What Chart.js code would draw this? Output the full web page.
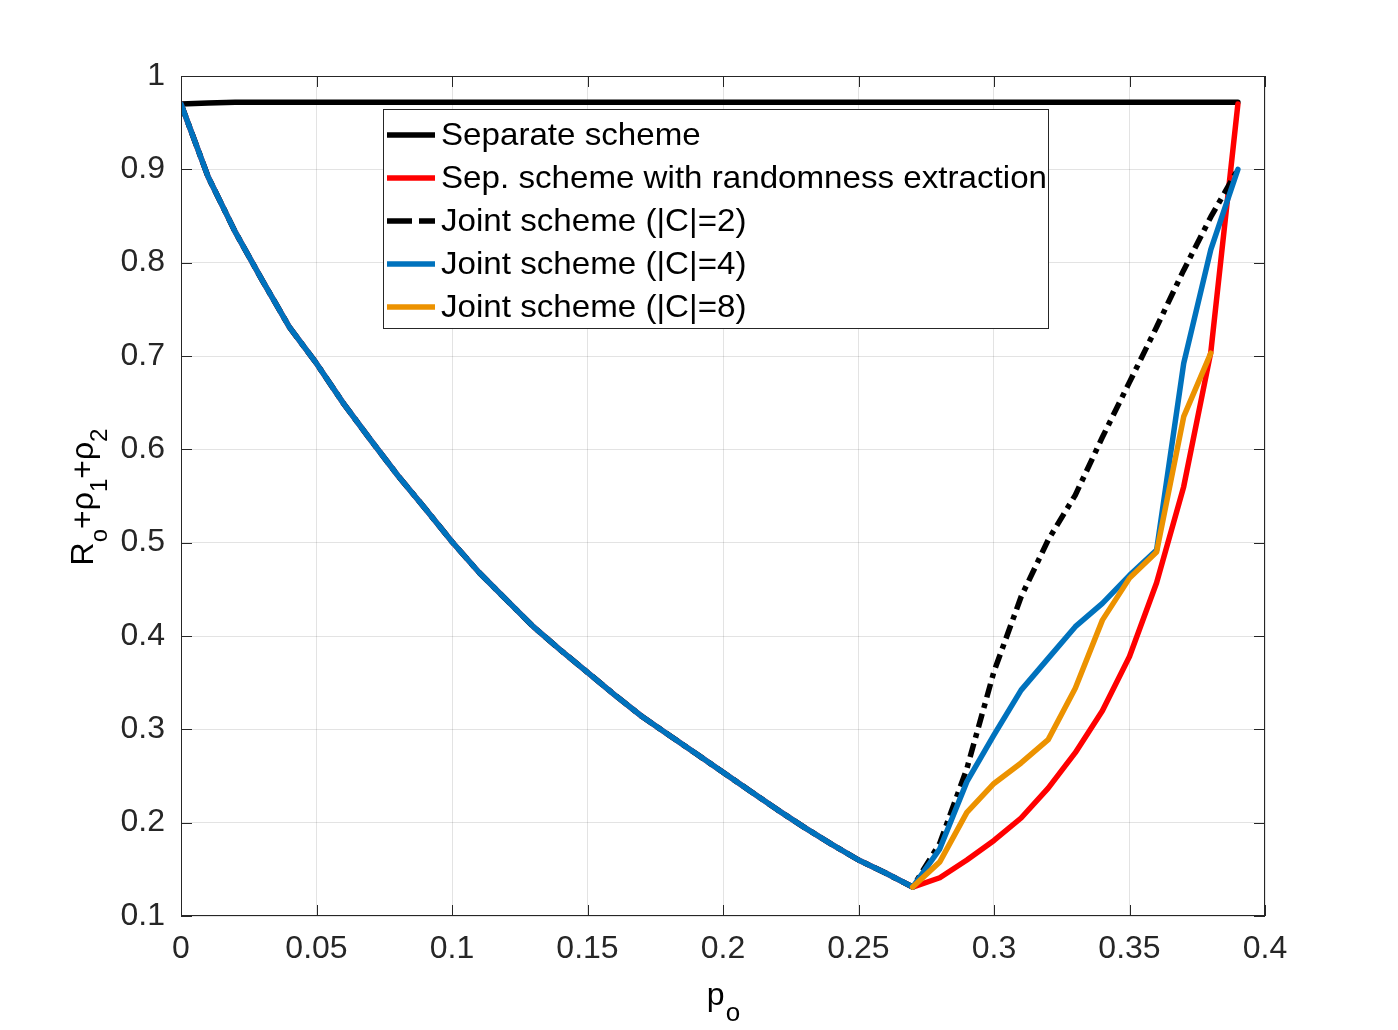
<!DOCTYPE html>
<html>
<head>
<meta charset="utf-8">
<script src="https://cdn.jsdelivr.net/npm/chart.js@4.4.1/dist/chart.umd.min.js"></script>
<style>
  html, body { margin: 0; padding: 0; background: #ffffff; }
  #wrap { width: 1398px; height: 1030px; }
</style>
</head>
<body>
<div id="wrap"><canvas id="c" width="1398" height="1030"></canvas></div>
<script>
// ---- data ----
const pValues = [0,0.01,0.02,0.03,0.04,0.05,0.06,0.07,0.08,0.09,0.10,0.11,0.12,0.13,0.14,0.15,0.16,0.17,0.18,0.19,
                 0.20,0.21,0.22,0.23,0.24,0.25,0.26,0.27,0.28,0.29,0.30,0.31,0.32,0.33,0.34,0.35,0.36,0.37,0.38,0.39];

// common descending branch (p = 0 ... 0.27)
const leftBranch = [0.970,0.892,0.833,0.781,0.731,0.692,0.649,0.610,0.572,0.537,0.501,0.468,0.439,0.410,
                    0.385,0.361,0.337,0.314,0.294,0.274,0.254,0.234,0.214,0.195,0.177,0.160,0.146,0.131];

const separateScheme = [0.970,0.971,0.972,0.972,0.972,0.972,0.972,0.972,0.972,0.972,0.972,0.972,0.972,0.972,
                        0.972,0.972,0.972,0.972,0.972,0.972,0.972,0.972,0.972,0.972,0.972,0.972,0.972,0.972,
                        0.972,0.972,0.972,0.972,0.972,0.972,0.972,0.972,0.972,0.972,0.972,0.972];

// rising branches (p = 0.28 ... 0.39)
const sepExtractionRight = [0.141,0.160,0.181,0.205,0.237,0.275,0.320,0.378,0.457,0.560,0.704,0.970];
const jointC2Right       = [0.178,0.258,0.362,0.442,0.503,0.551,0.613,0.672,0.731,0.792,0.849,0.900];
const jointC4Right       = [0.172,0.244,0.294,0.342,0.376,0.410,0.435,0.465,0.492,0.692,0.814,0.900];
const jointC8Right       = [0.158,0.211,0.242,0.264,0.289,0.344,0.417,0.462,0.490,0.635,0.703];

const seriesLabels = ['Separate scheme','Sep. scheme with randomness extraction',
                      'Joint scheme (|C|=2)','Joint scheme (|C|=4)','Joint scheme (|C|=8)'];

const xTickLabels = ['0','0.05','0.1','0.15','0.2','0.25','0.3','0.35','0.4'];
const yTickLabels = ['0.1','0.2','0.3','0.4','0.5','0.6','0.7','0.8','0.9','1'];

// ---- build series ----
function pts(ys, startIndex) {
  return ys.map((y, i) => ({ x: pValues[startIndex + i], y: y }));
}
const sepExtraction = leftBranch.concat(sepExtractionRight);
const jointC2 = leftBranch.concat(jointC2Right);
const jointC4 = leftBranch.concat(jointC4Right);
const jointC8Start = leftBranch.length - 1; // starts at the minimum (p = 0.27)
const jointC8 = [leftBranch[leftBranch.length - 1]].concat(jointC8Right);

const FONT = "'Liberation Sans', Arial, Helvetica, sans-serif";
const AXIS_COLOR = '#262626';
const DASH = [14, 6, 5, 6];
const LW = 5.5;

const datasets = [
  { label: seriesLabels[0], data: pts(separateScheme, 0), borderColor: '#000000', order: 5 },
  { label: seriesLabels[1], data: pts(sepExtraction, 0), borderColor: '#ff0000', order: 4 },
  { label: seriesLabels[2], data: pts(jointC2, 0), borderColor: '#000000', borderDash: DASH, order: 3 },
  { label: seriesLabels[3], data: pts(jointC4, 0), borderColor: '#0072bd', order: 2 },
  { label: seriesLabels[4], data: pts(jointC8, jointC8Start), borderColor: '#ec9200', order: 1 }
];
datasets.forEach(d => {
  d.pointRadius = 0; d.tension = 0; d.fill = false; d.borderWidth = LW;
  d.borderJoinStyle = 'round'; d.borderCapStyle = d.borderDash ? 'butt' : 'round';
});

function labelFor(list, value) {
  for (const s of list) { if (Math.abs(parseFloat(s) - value) < 1e-6) return s; }
  return '';
}

const matlabDecor = {
  id: 'matlabDecor',
  afterDraw(chart) {
    const ctx = chart.ctx;
    const a = chart.chartArea;
    const xs = chart.scales.x, ys = chart.scales.y;
    ctx.save();
    // box
    ctx.strokeStyle = AXIS_COLOR; ctx.lineWidth = 1;
    ctx.strokeRect(Math.round(a.left) + 0.5, Math.round(a.top) + 0.5,
                   Math.round(a.right - a.left) - 1, Math.round(a.bottom - a.top) - 1);
    // inward ticks on all four sides
    const TL = 11;
    ctx.beginPath();
    xs.ticks.forEach(t => {
      const px = Math.round(xs.getPixelForValue(t.value)) + 0.5;
      ctx.moveTo(px, a.bottom); ctx.lineTo(px, a.bottom - TL);
      ctx.moveTo(px, a.top); ctx.lineTo(px, a.top + TL);
    });
    ys.ticks.forEach(t => {
      const py = Math.round(ys.getPixelForValue(t.value)) + 0.5;
      ctx.moveTo(a.left, py); ctx.lineTo(a.left + TL, py);
      ctx.moveTo(a.right, py); ctx.lineTo(a.right - TL, py);
    });
    ctx.stroke();

    // legend
    const lx = 383, ly = 109, lw = 665, lh = 219;
    ctx.fillStyle = '#ffffff';
    ctx.fillRect(lx, ly, lw, lh);
    ctx.strokeStyle = AXIS_COLOR; ctx.lineWidth = 1;
    ctx.strokeRect(lx + 0.5, ly + 0.5, lw, lh);
    ctx.font = '32px ' + FONT;
    const longest = ctx.measureText(seriesLabels[1]).width;
    const stretch = 606 / longest;
    chart.data.datasets.forEach((d, i) => {
      const cy = 135 + 43 * i;
      ctx.save();
      ctx.strokeStyle = d.borderColor; ctx.lineWidth = LW; ctx.lineCap = 'butt';
      ctx.setLineDash(d.borderDash ? [25, 7] : []);
      ctx.beginPath(); ctx.moveTo(387, cy); ctx.lineTo(435, cy); ctx.stroke();
      ctx.restore();
      ctx.save();
      ctx.fillStyle = '#000000';
      ctx.font = '32px ' + FONT;
      ctx.textBaseline = 'middle'; ctx.textAlign = 'left';
      ctx.translate(441, cy + 1);
      ctx.scale(stretch, 1);
      ctx.fillText(d.label, 0, 0);
      ctx.restore();
    });

    // x title: p_o
    ctx.fillStyle = '#000000';
    ctx.textBaseline = 'alphabetic'; ctx.textAlign = 'left';
    ctx.font = '32px ' + FONT;
    const pw = ctx.measureText('p').width;
    ctx.font = '26px ' + FONT;
    const ow = ctx.measureText('o').width;
    let sx = (a.left + a.right) / 2 - (pw + ow) / 2;
    ctx.font = '32px ' + FONT; ctx.fillText('p', sx, 1005);
    ctx.font = '26px ' + FONT; ctx.fillText('o', sx + pw + 1, 1021);

    // y title: R_o+ρ_1+ρ_2 (rotated)
    const parts = [['R', false], ['o', true], ['+', false], ['\u03c1', false], ['1', true],
                   ['+', false], ['\u03c1', false], ['2', true]];
    let total = 0;
    parts.forEach(p => { ctx.font = (p[1] ? '24px ' : '32px ') + FONT; total += ctx.measureText(p[0]).width; });
    ctx.translate(93, 497);
    ctx.rotate(-Math.PI / 2);
    let cx = -total / 2;
    parts.forEach(p => {
      ctx.font = (p[1] ? '24px ' : '32px ') + FONT;
      ctx.fillText(p[0], cx, p[1] ? 14 : 0);
      cx += ctx.measureText(p[0]).width;
    });
    ctx.restore();
  }
};

new Chart(document.getElementById('c'), {
  type: 'line',
  data: { datasets: datasets },
  options: {
    responsive: false,
    animation: false,
    devicePixelRatio: 1,
    layout: { padding: { left: 0, right: 133, top: 76, bottom: 0 } },
    plugins: { legend: { display: false }, tooltip: { enabled: false }, title: { display: false } },
    scales: {
      x: {
        type: 'linear', min: 0, max: 0.4,
        afterFit(s) { s.height = 114; },
        grid: { color: 'rgba(38,38,38,0.13)', lineWidth: 1, drawTicks: false },
        border: { display: false },
        ticks: {
          stepSize: 0.05, padding: 14, color: AXIS_COLOR, maxRotation: 0,
          font: { family: FONT, size: 32 },
          callback: (v) => labelFor(xTickLabels, v)
        }
      },
      y: {
        type: 'linear', min: 0.1, max: 1,
        afterFit(s) { s.width = 181; },
        grid: { color: 'rgba(38,38,38,0.13)', lineWidth: 1, drawTicks: false },
        border: { display: false },
        ticks: {
          stepSize: 0.1, padding: 16, color: AXIS_COLOR,
          font: { family: FONT, size: 32 },
          callback: (v) => labelFor(yTickLabels, v)
        }
      }
    }
  },
  plugins: [matlabDecor]
});
</script>
</body>
</html>
